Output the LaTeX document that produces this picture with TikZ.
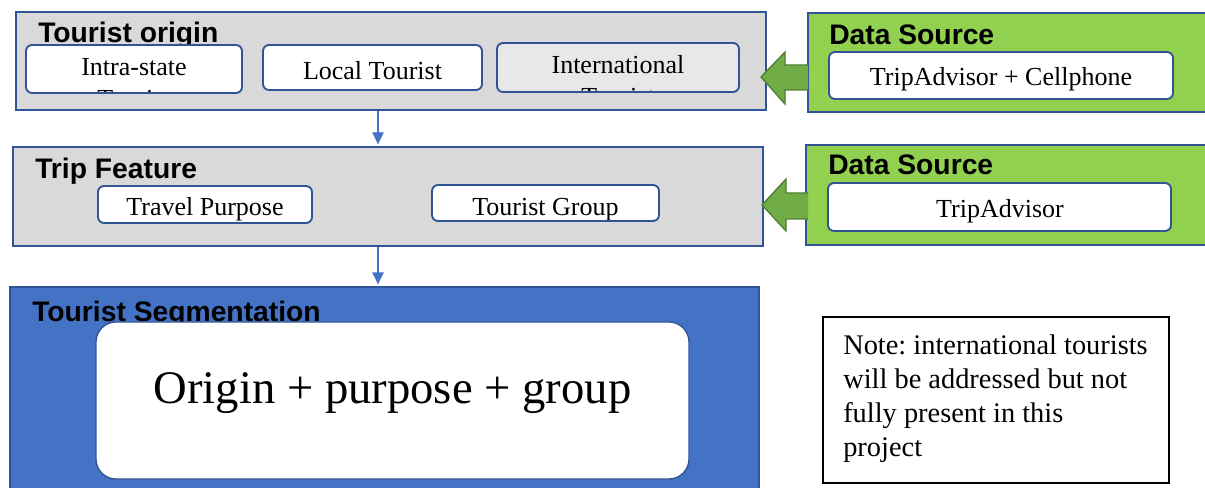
\documentclass[tikz,border=0pt]{standalone}
\usepackage{fontspec}
\setmainfont{Liberation Serif}
\newfontfamily\arialfont{Liberation Sans}
\usetikzlibrary{fit,arrows.meta}
\frenchspacing
\definecolor{bord}{HTML}{2F5597}
\definecolor{boxgray}{HTML}{D9D9D9}
\definecolor{intgray}{HTML}{E8E8E8}
\definecolor{srcgreen}{HTML}{92D050}
\definecolor{arrgreen}{HTML}{70AD47}
\definecolor{arrborder}{HTML}{507E32}
\definecolor{segblue}{HTML}{4472C4}
\tikzset{
  panel/.style={draw=bord, line width=1pt, inner sep=0pt},
  inbox/.style={draw=bord, line width=1.4pt, fill=white, rounded corners=4.5pt, inner sep=0pt},
  ttl/.style={font=\arialfont\bfseries\fontsize{21.2}{24}\selectfont, anchor=base west, inner sep=0pt},
  lbl/.style={font=\fontsize{19.5}{23}\selectfont, anchor=base, inner sep=0pt},
  conn/.style={draw=segblue, line width=1pt, -{Triangle[length=9pt,width=8.5pt]}, shorten >=1.5pt},
  blockarrow/.style={fill=arrgreen, draw=arrborder, line width=1pt, line join=miter}
}
\begin{document}
\begin{tikzpicture}[x=0.75pt, y=-0.75pt]
\clip (0,0) rectangle (1205,488);
\fill[white] (0,0) rectangle (1205,488);

% ---- Tourist origin
\node[panel, fill=boxgray, fit={(16,12)(766,110)}] (origin) {};
\node[ttl] (origintitle) at (38,43) {Tourist origin};
\node[inbox, fit={(26,45)(242,93)}, path picture={
  \node[lbl] at ([shift={(0,31)}]path picture bounding box.north) {Intra-state};
  \node[lbl] at ([shift={(0,63)}]path picture bounding box.north) {Tourist};}] (intra) {};
\node[inbox, fit={(263,45)(482,90)}, path picture={
  \node[lbl] at ([shift={(0,35)}]path picture bounding box.north) {Local Tourist};}] (local) {};
\node[inbox, fill=intgray, fit={(497,43)(739,92)}, path picture={
  \node[lbl] at ([shift={(0,31)}]path picture bounding box.north) {International};
  \node[lbl] at ([shift={(0,63)}]path picture bounding box.north) {Tourist};}] (intl) {};

% ---- Data source 1
\node[panel, fill=srcgreen, fit={(808,13)(1215,112)}] (src1) {};
\node[ttl] (src1title) at (829,45) {Data Source};
\node[inbox, fit={(829,52)(1173,99)}] (src1box) {};
\node[lbl] (src1txt) at (1001,86) {TripAdvisor + Cellphone};
\draw[blockarrow] (808,65) -- (785,65) -- (785,52) -- (761,77) -- (785,104) -- (785,90) -- (808,90);

% ---- Trip feature
\node[panel, fill=boxgray, fit={(13,147)(763,246)}] (trip) {};
\node[ttl] (triptitle) at (35,179) {Trip Feature};
\node[inbox, fit={(98,186)(312,223)}, path picture={
  \node[lbl] at ([shift={(0,29)}]path picture bounding box.north) {Travel Purpose};}] (purpose) {};
\node[inbox, fit={(432,185)(659,221)}, path picture={
  \node[lbl] at ([shift={(0,31)}]path picture bounding box.north) {Tourist Group};}] (group) {};

% ---- Data source 2
\node[panel, fill=srcgreen, fit={(806,145)(1215,245)}] (src2) {};
\node[ttl] (src2title) at (828,175) {Data Source};
\node[inbox, fit={(828,183)(1171,231)}] (src2box) {};
\node[lbl] (src2txt) at (1000,218) {TripAdvisor};
\draw[blockarrow] (808,193) -- (786,193) -- (786,179) -- (762,205) -- (786,231) -- (786,219) -- (808,219);

% ---- Tourist segmentation
\node[panel, fill=segblue, fit={(10,287)(759,500)}] (seg) {};
\node[ttl] (segtitle) at (32,321) {Tourist Segmentation};
\node[draw=bord, line width=1pt, fill=white, rounded corners=15pt, inner sep=0pt, fit={(96,322)(689,479)}] (segbox) {};
\node[font=\fontsize{35}{40}\selectfont, anchor=base, inner sep=0pt] (segtxt) at (392.5,403) {Origin + purpose + group};

% ---- Note
\node[draw=black, line width=1pt, inner sep=0pt, fit={(823,317)(1169,483)}] (notebox) {};
\node[font=\fontsize{21.3}{25.5}\selectfont, align=left, anchor=north west, inner sep=0pt] (note) at (843,335)
  {Note: international tourists\\will be addressed but not\\fully present in this\\project};

% ---- connectors
\coordinate (ax) at (378,0);
\draw[conn] (origin.south -| ax) -- (trip.north -| ax);
\draw[conn] (trip.south -| ax) -- (seg.north -| ax);
\end{tikzpicture}
\end{document}
